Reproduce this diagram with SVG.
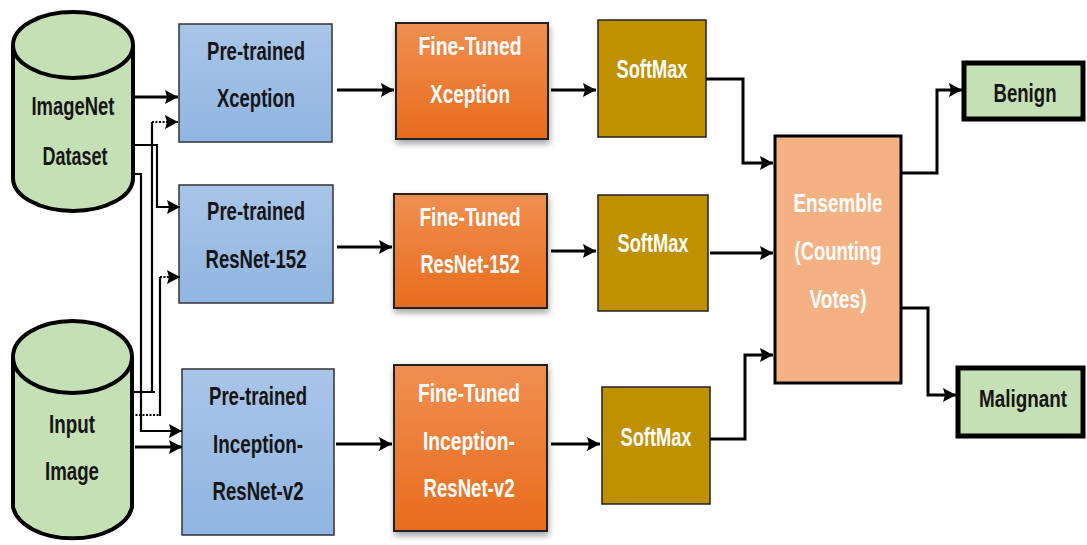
<svg xmlns="http://www.w3.org/2000/svg" width="1087" height="545" viewBox="0 0 1087 545">
  <style>
    text { font-family: "Liberation Sans", Arial, sans-serif; font-size: 26px; font-weight: bold; text-anchor: middle; }
    .dark { fill: #151515; }
    .light { fill: #ffffff; }
    .cyl { fill: #C5E0B4; stroke: #000; stroke-width: 4; }
    .pre { fill: url(#blueGrad); stroke: #333; stroke-width: 1.5; }
    .fine { fill: url(#orangeGrad); stroke: #222; stroke-width: 2; filter: url(#shadow); }
    .soft { fill: #BF9000; stroke: #222; stroke-width: 1.5; }
    .ens { fill: #F4B183; stroke: #000; stroke-width: 3; }
    .out { fill: #C5E0B4; stroke: #000; stroke-width: 5; }
    .wire { fill: none; stroke: #000; stroke-width: 3; }
    .thin { fill: none; stroke: #000; stroke-width: 2.2; }
    .dot { fill: none; stroke: #000; stroke-width: 2; stroke-dasharray: 2 1.5; }
  </style>
  <defs>
    <linearGradient id="blueGrad" x1="0" y1="0" x2="0" y2="1">
      <stop offset="0" stop-color="#A9C5E8"/>
      <stop offset="1" stop-color="#8FB5E1"/>
    </linearGradient>
    <linearGradient id="orangeGrad" x1="0" y1="0" x2="0" y2="1">
      <stop offset="0" stop-color="#F08F52"/>
      <stop offset="1" stop-color="#E86C1C"/>
    </linearGradient>
    <filter id="shadow" x="-10%" y="-10%" width="130%" height="130%">
      <feGaussianBlur in="SourceAlpha" stdDeviation="3"/>
      <feOffset dx="1" dy="4" result="b"/>
      <feComponentTransfer><feFuncA type="linear" slope="0.35"/></feComponentTransfer>
      <feMerge><feMergeNode/><feMergeNode in="SourceGraphic"/></feMerge>
    </filter>
    <marker id="arrow" markerUnits="userSpaceOnUse" markerWidth="15" markerHeight="15" refX="13" refY="7" orient="auto">
      <path d="M0,0 L13,7 L0,14 L2,7 z" fill="#000"/>
    </marker>
  </defs>

  <!-- data sources -->
  <g id="imagenet">
    <path class="cyl" d="M13,45 V178 A60,33 0 0 0 133,178 V45"/>
    <ellipse class="cyl" cx="73" cy="45" rx="60" ry="33"/>
    <text class="dark" x="73" y="115" textLength="83" lengthAdjust="spacingAndGlyphs">ImageNet</text>
    <text class="dark" x="75" y="165" textLength="65" lengthAdjust="spacingAndGlyphs">Dataset</text>
  </g>
  <g id="input-image">
    <path class="cyl" d="M13,357 V507 A60,36 0 0 0 132,507 V357"/>
    <ellipse class="cyl" cx="72.5" cy="357" rx="59.5" ry="36"/>
    <text class="dark" x="72" y="433" textLength="46" lengthAdjust="spacingAndGlyphs">Input</text>
    <text class="dark" x="72" y="480" textLength="54" lengthAdjust="spacingAndGlyphs">Image</text>
  </g>

  <!-- pre-trained backbones -->
  <g id="pre-xception">
    <rect class="pre" x="179" y="24" width="153" height="118"/>
    <text class="dark" x="256" y="60" textLength="98" lengthAdjust="spacingAndGlyphs">Pre-trained</text>
    <text class="dark" x="256" y="107" textLength="78" lengthAdjust="spacingAndGlyphs">Xception</text>
  </g>
  <g id="pre-resnet152">
    <rect class="pre" x="179" y="185" width="154" height="118"/>
    <text class="dark" x="256" y="220" textLength="98" lengthAdjust="spacingAndGlyphs">Pre-trained</text>
    <text class="dark" x="256" y="268" textLength="101" lengthAdjust="spacingAndGlyphs">ResNet-152</text>
  </g>
  <g id="pre-inception">
    <rect class="pre" x="182" y="369" width="152" height="166"/>
    <text class="dark" x="258" y="405" textLength="98" lengthAdjust="spacingAndGlyphs">Pre-trained</text>
    <text class="dark" x="258" y="453" textLength="90" lengthAdjust="spacingAndGlyphs">Inception-</text>
    <text class="dark" x="258" y="500" textLength="91" lengthAdjust="spacingAndGlyphs">ResNet-v2</text>
  </g>

  <!-- fine-tuned models -->
  <g id="fine-xception">
    <rect class="fine" x="396" y="23" width="152" height="116"/>
    <text class="light" x="470" y="55" textLength="103" lengthAdjust="spacingAndGlyphs">Fine-Tuned</text>
    <text class="light" x="470" y="103" textLength="80" lengthAdjust="spacingAndGlyphs">Xception</text>
  </g>
  <g id="fine-resnet152">
    <rect class="fine" x="394" y="194" width="153" height="114"/>
    <text class="light" x="470" y="226" textLength="101" lengthAdjust="spacingAndGlyphs">Fine-Tuned</text>
    <text class="light" x="470" y="273" textLength="99" lengthAdjust="spacingAndGlyphs">ResNet-152</text>
  </g>
  <g id="fine-inception">
    <rect class="fine" x="394" y="365" width="153" height="166"/>
    <text class="light" x="469" y="402" textLength="102" lengthAdjust="spacingAndGlyphs">Fine-Tuned</text>
    <text class="light" x="469" y="450" textLength="92" lengthAdjust="spacingAndGlyphs">Inception-</text>
    <text class="light" x="469" y="497" textLength="91" lengthAdjust="spacingAndGlyphs">ResNet-v2</text>
  </g>

  <!-- softmax heads -->
  <g id="softmax-1">
    <rect class="soft" x="598" y="20" width="108" height="117"/>
    <text class="light" x="652" y="78" textLength="71" lengthAdjust="spacingAndGlyphs">SoftMax</text>
  </g>
  <g id="softmax-2">
    <rect class="soft" x="598" y="195" width="110" height="116"/>
    <text class="light" x="653" y="252" textLength="71" lengthAdjust="spacingAndGlyphs">SoftMax</text>
  </g>
  <g id="softmax-3">
    <rect class="soft" x="602" y="387" width="108" height="117"/>
    <text class="light" x="656" y="446" textLength="71" lengthAdjust="spacingAndGlyphs">SoftMax</text>
  </g>

  <!-- voting ensemble -->
  <g id="ensemble">
    <rect class="ens" x="775" y="136" width="126" height="247"/>
    <text class="light" x="838" y="212" textLength="89" lengthAdjust="spacingAndGlyphs">Ensemble</text>
    <text class="light" x="838" y="260" textLength="87" lengthAdjust="spacingAndGlyphs">(Counting</text>
    <text class="light" x="838" y="308" textLength="57" lengthAdjust="spacingAndGlyphs">Votes)</text>
  </g>

  <!-- outcomes -->
  <g id="benign">
    <rect class="out" x="964" y="63" width="119" height="56"/>
    <text class="dark" x="1025" y="102" textLength="63" lengthAdjust="spacingAndGlyphs">Benign</text>
  </g>
  <g id="malignant">
    <rect class="out" x="958" y="368" width="125" height="68"/>
    <text class="dark" x="1023" y="407" style="font-size:24px" textLength="88" lengthAdjust="spacingAndGlyphs">Malignant</text>
  </g>

  <g id="connectors">
    <!-- sources to backbones -->
    <path class="wire" d="M133,97 H178" marker-end="url(#arrow)"/>
    <path class="thin" d="M133,145 H157 V207 H180" marker-end="url(#arrow)"/>
    <path class="thin" d="M133,174 H141 V431 H182" marker-end="url(#arrow)"/>
    <path class="thin" d="M132,392 H155 M152,392 V122"/>
    <path class="dot" d="M152,122 H178" marker-end="url(#arrow)"/>
    <path class="dot" d="M132,415 H160"/>
    <path class="thin" d="M160,416 V277"/>
    <path class="dot" d="M160,277 H180" marker-end="url(#arrow)"/>
    <path class="wire" d="M135,447 H182" marker-end="url(#arrow)"/>
    <!-- backbones to fine-tuned -->
    <path class="wire" d="M337,90 H394" marker-end="url(#arrow)"/>
    <path class="wire" d="M337,247 H392" marker-end="url(#arrow)"/>
    <path class="wire" d="M336,444 H392" marker-end="url(#arrow)"/>
    <!-- fine-tuned to softmax -->
    <path class="wire" d="M551,90 H596" marker-end="url(#arrow)"/>
    <path class="wire" d="M551,251 H596" marker-end="url(#arrow)"/>
    <path class="wire" d="M551,444 H600" marker-end="url(#arrow)"/>
    <!-- softmax to ensemble -->
    <path class="wire" d="M706,79 H743 V163 H773" marker-end="url(#arrow)"/>
    <path class="wire" d="M710,253 H773" marker-end="url(#arrow)"/>
    <path class="wire" d="M710,439 H745 V355 H773" marker-end="url(#arrow)"/>
    <!-- ensemble to outcomes -->
    <path class="wire" d="M902,173 H937 V90 H962" marker-end="url(#arrow)"/>
    <path class="wire" d="M902,308 H928 V395 H956" marker-end="url(#arrow)"/>
  </g>
</svg>
